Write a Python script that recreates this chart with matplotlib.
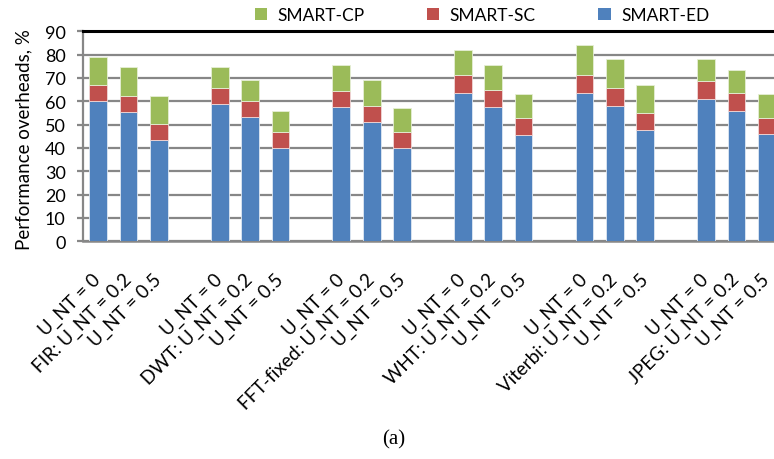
import matplotlib
matplotlib.use("Agg")
import matplotlib.pyplot as plt
import numpy as np
from matplotlib.patches import Patch

plt.rcParams['font.family'] = ['Lato', 'DejaVu Sans']

groups = ['FIR', 'DWT', 'FFT-fixed', 'WHT', 'Viterbi', 'JPEG']
unt_levels = ['0', '0.2', '0.5']

# cumulative tops (ED, ED+SC, ED+SC+CP), per group, per U_NT level
ed_top = [60.3, 55.3, 43.4,  58.8, 53.1, 40.0,  57.4, 51.0, 40.0,
          63.7, 57.4, 45.6,  63.7, 58.0, 47.6,  60.9, 56.0, 46.0]
sc_top = [67.1, 62.3, 50.3,  65.7, 60.1, 46.8,  64.6, 58.0, 46.8,
          71.3, 65.0, 53.0,  71.3, 65.7, 55.1,  68.6, 63.6, 53.0]
cp_top = [79.1, 74.8, 62.3,  74.8, 69.3, 56.0,  75.6, 69.3, 57.3,
          81.9, 75.6, 63.0,  84.0, 78.3, 67.1,  78.3, 73.4, 63.0]

ed = np.array(ed_top)
sc = np.array(sc_top) - ed
cp = np.array(cp_top) - np.array(sc_top)

labels = []
for g in groups:
    for j, u in enumerate(unt_levels):
        if j == 1:
            labels.append(f"{g}: U_NT = {u}")
        else:
            labels.append(f"U_NT = {u}")

# positions: 3 bars per group then one empty slot
pos = []
for gi in range(len(groups)):
    for j in range(3):
        pos.append(gi * 4 + j)
pos = np.array(pos)

c_ed = '#4F81BD'
c_sc = '#C0504D'
c_cp = '#9BBB59'

fig = plt.figure(figsize=(7.74, 4.60), dpi=100)
ax = fig.add_axes([0.1072, 0.4733, 0.9031, 0.4565])

w = 0.58
ax.bar(pos, ed, w, color=c_ed, edgecolor='#dfe8f3', linewidth=0.6, zorder=3)
ax.bar(pos, sc, w, bottom=ed, color=c_sc, edgecolor='#f0d8d8', linewidth=0.6, zorder=3)
ax.bar(pos, cp, w, bottom=ed + sc, color=c_cp, edgecolor='#e6efd6', linewidth=0.6, zorder=3)

ax.set_xlim(-0.5, 22.5)
ax.set_ylim(0, 90)
ax.set_yticks(np.arange(0, 91, 10))
ax.yaxis.grid(True, color='#878787', linewidth=1.6, zorder=0)
ax.set_axisbelow(True)

ax.spines['right'].set_visible(False)
ax.spines['top'].set_color('black')
ax.spines['top'].set_linewidth(2.2)
ax.spines['left'].set_color('#878787')
ax.spines['left'].set_linewidth(1.6)
ax.spines['bottom'].set_color('#878787')
ax.spines['bottom'].set_linewidth(1.8)

ax.tick_params(axis='y', direction='out', length=4.5, width=1.6, color='#878787',
               labelsize=13, pad=8)
ax.tick_params(axis='x', length=0, pad=25)

ax.set_xticks(pos)
ax.set_xticklabels(labels, rotation=45, ha='right', va='center',
                   rotation_mode='anchor', fontsize=13.5)

ax.set_ylabel('Performance overheads, %', fontsize=13.5)
ax.yaxis.set_label_coords(-0.073, 0.487)

handles = [Patch(facecolor=c_cp, label='SMART-CP'),
           Patch(facecolor=c_sc, label='SMART-SC'),
           Patch(facecolor=c_ed, label='SMART-ED')]
fig.legend(handles=handles, loc='center', bbox_to_anchor=(0.623, 0.965), ncol=3,
           frameon=False, fontsize=12.5, handlelength=0.7, handleheight=0.7,
           handletextpad=0.6, columnspacing=3.6)

fig.text(0.508, 0.043, '(a)', ha='center', va='center', fontsize=15,
         family='Liberation Serif')

fig.savefig('out.png', dpi=100)
